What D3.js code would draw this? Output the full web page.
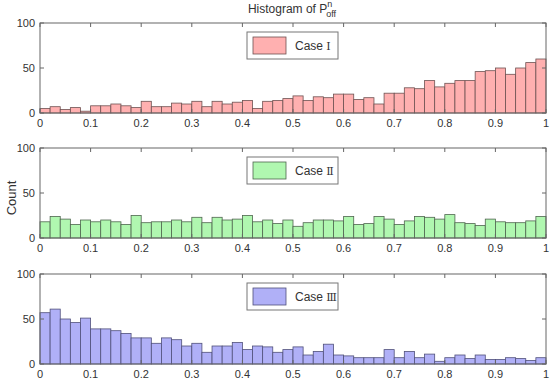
<!DOCTYPE html>
<html>
<head>
<meta charset="utf-8">
<script src="https://cdn.jsdelivr.net/npm/d3@7"></script>
<style>
  body { margin: 0; background: #fff; }
  text { font-family: "Liberation Sans", Arial, sans-serif; fill: #333; }
</style>
</head>
<body>
<div id="container"></div>
<script>
/* DATA: 50 bins from 0 to 1 */
const binEdges = d3.range(0, 50).map(i => i / 50);
const caseI = [5, 7, 4, 6, 2, 8, 8, 10, 8, 6, 13, 7, 7, 11, 10, 13, 7, 13, 10, 12,
  14, 5, 13, 14, 16, 19, 14, 18, 17, 21, 21, 15, 17, 10, 22, 22, 28, 27, 36, 29,
  33, 36, 36, 46, 47, 50, 43, 50, 56, 60];
const caseII = [18, 24, 21, 15, 20, 18, 20, 18, 15, 25, 17, 18, 18, 20, 18, 23, 17, 23, 20, 21,
  25, 18, 20, 16, 20, 13, 17, 20, 20, 19, 24, 15, 16, 24, 21, 15, 19, 24, 23, 21,
  26, 17, 16, 14, 21, 18, 17, 17, 19, 24];
const caseIII = [57, 61, 50, 46, 51, 39, 39, 37, 34, 29, 29, 23, 29, 27, 20, 23, 13, 20, 20, 24,
  16, 20, 19, 13, 16, 19, 10, 14, 22, 10, 9, 7, 7, 7, 16, 7, 14, 7, 11, 3,
  7, 10, 6, 10, 5, 5, 7, 6, 4, 7];
const xTicks = [0, 0.1, 0.2, 0.3, 0.4, 0.5, 0.6, 0.7, 0.8, 0.9, 1];
const yTicks = [0, 50, 100];

const panels = [
  { numeral: "\u2160", values: caseI, fill: "#ffb0b0", stroke: "#6e5252", top: 23 },
  { numeral: "\u2161", values: caseII, fill: "#b0f7b0", stroke: "#4f654f", top: 148 },
  { numeral: "\u2162", values: caseIII, fill: "#b0b0f7", stroke: "#50507a", top: 274 }
];

const width = 550, height = 383;
const left = 40, right = 546, panelH = 90;

const svg = d3.select("#container")
  .append("svg")
  .attr("width", width)
  .attr("height", height);

const x = d3.scaleLinear().domain([0, 1]).range([left, right]);

// title
const title = svg.append("text")
  .attr("x", 292)
  .attr("y", 13)
  .attr("text-anchor", "middle")
  .style("font-size", "12px");
title.append("tspan").text("Histogram of P");
title.append("tspan").attr("dy", -6).style("font-size", "9px").text("n");
title.append("tspan").attr("dx", -6).attr("dy", 10).style("font-size", "9px").text("off");

// y label
svg.append("text")
  .attr("transform", "translate(16,198) rotate(-90)")
  .attr("text-anchor", "middle")
  .style("font-size", "13px")
  .text("Count");

panels.forEach(p => {
  const y = d3.scaleLinear().domain([0, 100]).range([p.top + panelH, p.top]);
  const g = svg.append("g");

  // bars
  g.selectAll("rect.bar")
    .data(p.values)
    .join("rect")
    .attr("class", "bar")
    .attr("x", (d, i) => x(binEdges[i]))
    .attr("width", x(0.02) - x(0))
    .attr("y", d => y(d))
    .attr("height", d => y(0) - y(d))
    .attr("fill", p.fill)
    .attr("stroke", p.stroke)
    .attr("stroke-width", 0.8);

  // axis box
  g.append("rect")
    .attr("x", left)
    .attr("y", p.top)
    .attr("width", right - left)
    .attr("height", panelH)
    .attr("fill", "none")
    .attr("stroke", "#666")
    .attr("stroke-width", 1);

  // x ticks (inward, top and bottom)
  xTicks.forEach(t => {
    g.append("line")
      .attr("x1", x(t)).attr("x2", x(t))
      .attr("y1", y(0)).attr("y2", y(0) - 4)
      .attr("stroke", "#666");
    g.append("line")
      .attr("x1", x(t)).attr("x2", x(t))
      .attr("y1", y(100)).attr("y2", y(100) + 4)
      .attr("stroke", "#666");
    g.append("text")
      .attr("x", x(t))
      .attr("y", y(0) + 14)
      .attr("text-anchor", "middle")
      .style("font-size", "11px")
      .text(t === 0 || t === 1 ? String(t) : t.toFixed(1));
  });

  // y ticks
  yTicks.forEach(t => {
    g.append("line")
      .attr("x1", left).attr("x2", left + 4)
      .attr("y1", y(t)).attr("y2", y(t))
      .attr("stroke", "#666");
    g.append("line")
      .attr("x1", right).attr("x2", right - 4)
      .attr("y1", y(t)).attr("y2", y(t))
      .attr("stroke", "#666");
    g.append("text")
      .attr("x", left - 5)
      .attr("y", y(t) + 4)
      .attr("text-anchor", "end")
      .style("font-size", "11px")
      .text(t);
  });

  // legend
  const lg = g.append("g").attr("transform", `translate(247,${p.top + 9})`);
  lg.append("rect")
    .attr("width", 91).attr("height", 27)
    .attr("fill", "#fff")
    .attr("stroke", "#777").attr("stroke-width", 1);
  lg.append("rect")
    .attr("x", 6).attr("y", 5)
    .attr("width", 33).attr("height", 17)
    .attr("fill", p.fill)
    .attr("stroke", p.stroke).attr("stroke-width", 0.8);
  const lt = lg.append("text")
    .attr("x", 48).attr("y", 18)
    .style("font-size", "12px");
  lt.append("tspan").text("Case ");
  lt.append("tspan")
    .style("font-family", "'Liberation Serif', 'DejaVu Serif', serif")
    .style("font-size", "11px")
    .text(p.numeral);
});
</script>
</body>
</html>
